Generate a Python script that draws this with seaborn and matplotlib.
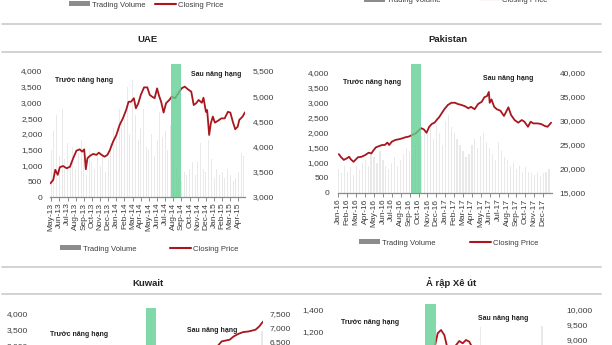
import numpy as np
import pandas as pd
import matplotlib
matplotlib.use("Agg")
import matplotlib.pyplot as plt
import seaborn as sns
from matplotlib.lines import Line2D
from matplotlib.patches import Patch

# ---------------- data ----------------
uae_months = ["May-13", "Jun-13", "Jul-13", "Aug-13", "Sep-13", "Oct-13", "Nov-13", "Dec-13",
              "Jan-14", "Feb-14", "Mar-14", "Apr-14", "May-14", "Jun-14", "Jul-14", "Aug-14",
              "Sep-14", "Oct-14", "Nov-14", "Dec-14", "Jan-15", "Feb-15", "Mar-15", "Apr-15"]
uae_price_x = [-0.1, 0.25, 0.5, 0.8, 1.05, 1.45, 1.9, 2.3, 2.7, 3.1, 3.5, 3.8, 4.05, 4.25, 4.45,
               4.75, 5.15, 5.55, 5.85, 6.15, 6.55, 6.9, 7.2, 7.6, 8.0, 8.4, 8.8, 9.2, 9.5, 9.8,
               10.15, 10.4, 10.7, 11.0, 11.4, 11.8, 12.1, 12.4, 12.7, 13.0, 13.25, 13.5, 13.8,
               14.1, 14.5, 14.8, 15.2, 15.6, 16.0, 16.4, 16.8, 17.2, 17.5, 17.8, 18.1, 18.5,
               18.7, 19.0, 19.15, 19.4, 19.6, 19.85, 20.1, 20.5, 20.9, 21.3, 21.7, 22.0, 22.3,
               22.6, 22.9, 23.1, 23.5, 23.8]
uae_price = [3270, 3340, 3540, 3440, 3590, 3615, 3570, 3600, 3770, 3920, 3945, 3900, 3945, 3550,
             3770, 3815, 3855, 3835, 3880, 3840, 3800, 3835, 3930, 4100, 4230, 4430, 4560, 4725,
             4890, 4890, 4960, 4760, 4860, 5025, 5175, 5175, 5025, 4990, 4960, 5155, 5005, 4890,
             4675, 4860, 4925, 4990, 4960, 5055, 5155, 5190, 5135, 5090, 4825, 4860, 4925, 4870,
             4970, 4690, 4725, 4230, 4460, 4595, 4475, 4515, 4560, 4560, 4690, 4675, 4495, 4345,
             4395, 4530, 4595, 4680]
uae_volume = [1500, 2100, 2600, 1300, 2800, 1200, 1700, 1100, 1600, 900, 1400, 1800,
              1200, 700, 1500, 1100, 900, 1300, 1000, 1300, 800, 1200, 1700, 2200,
              1900, 2800, 2400, 2500, 3500, 2000, 3700, 2600, 1800, 2200, 2800, 1600,
              1500, 2000, 1300, 1800, 2700, 1900, 2100, 1500, 2300, 1200, 900, 600,
              500, 800, 700, 900, 1100, 700, 1100, 1700, 900, 800, 1800, 1200,
              600, 900, 700, 800, 600, 900, 700, 500, 600, 800, 1400, 1300]
uae_band = (14.7, 16.0)

pk_months = ["Jan-16", "Feb-16", "Mar-16", "Apr-16", "May-16", "Jun-16", "Jul-16", "Aug-16",
             "Sep-16", "Oct-16", "Nov-16", "Dec-16", "Jan-17", "Feb-17", "Mar-17", "Apr-17",
             "May-17", "Jun-17", "Jul-17", "Aug-17", "Sep-17", "Oct-17", "Nov-17", "Dec-17"]
pk_price_x = [0.04, 0.3, 0.6, 0.97, 1.2, 1.4, 1.7, 1.9, 2.2, 2.6, 3.0, 3.4, 3.7, 3.9, 4.2, 4.6,
              4.9, 5.2, 5.5, 5.7, 6.0, 6.4, 6.8, 7.2, 7.5, 7.9, 8.3, 8.7, 9.0, 9.3, 9.6, 9.9,
              10.2, 10.5, 10.8, 11.1, 11.3, 11.6, 11.9, 12.3, 12.7, 13.1, 13.4, 13.8, 14.2,
              14.6, 14.9, 15.3, 15.7, 16.1, 16.4, 16.7, 16.9, 17.0, 17.2, 17.5, 17.8, 18.2,
              18.6, 18.8, 19.1, 19.4, 19.8, 20.2, 20.6, 20.9, 21.3, 21.6, 21.9, 22.4, 22.8,
              23.2, 23.5, 23.9]
pk_price = [23100, 22450, 21900, 22250, 22550, 22000, 21500, 21900, 22450, 22550, 22900, 23400,
            23250, 23800, 24500, 24800, 25000, 25000, 25500, 25000, 25700, 26050, 26200, 26400,
            26600, 26750, 27100, 27450, 28000, 28500, 28250, 27550, 28800, 29400, 29650, 30350,
            30750, 31600, 32450, 33350, 33800, 33800, 33550, 33350, 33100, 32650, 32950, 32450,
            33550, 34000, 34950, 35200, 36050, 33800, 34500, 32950, 32450, 32150, 31050, 31750,
            32850, 31250, 30200, 29650, 30200, 29850, 28800, 29850, 29500, 29500, 29350, 28950,
            28800, 29650]
pk_volume = [800, 650, 900, 700, 850, 600, 900, 750, 1000, 1100, 900, 1300,
             1200, 1000, 1400, 1100, 900, 800, 1000, 1200, 900, 1100, 1300, 1500,
             1400, 1200, 1600, 1700, 1900, 2100, 2000, 2200, 1800, 2300, 2000, 1600,
             2400, 2600, 2200, 2000, 1800, 1600, 1400, 1200, 1300, 1600, 1800, 1500,
             1900, 2000, 1700, 1500, 1300, 1100, 1700, 1400, 1200, 1100, 900, 1000,
             800, 900, 700, 850, 700, 650, 600, 700, 550, 650, 700, 800]
pk_band = (8.2, 9.3)

kw_price_x = [19.2, 19.65, 20.5, 20.9, 21.4, 21.9, 22.45, 23.2, 23.6, 24.0]
kw_price = [6350, 6520, 6580, 6690, 6780, 6845, 6865, 6925, 7040, 7210]
kw_volume_x = [23.9]
kw_volume = [3450]
kw_band = (11.7, 12.7)

sa_price_x = [10.7, 10.8, 11.07, 11.42, 11.77, 12.02, 12.4, 13.08, 13.35, 13.71, 14.06, 14.41,
              14.59, 14.9]
sa_price = [8600, 8833, 9224, 9333, 9167, 8833, 8600, 8857, 8967, 8890, 9000, 8944, 8833, 8600]
sa_volume_x = [15.6, 22.1]
sa_volume = [1240, 1250]
sa_band = (9.76, 10.89)

# ---------------- style ----------------
sns.set_theme(style="white")
plt.rcParams["font.family"] = ["Liberation Sans", "DejaVu Sans"]
FONT = ["Liberation Sans", "DejaVu Sans"]

W, H = 612, 345
RED = "#a8161e"
BAR = "#e9e9e9"
GREEN = "#62cf92"
TXT = "#3c3c3c"
SPINE = "#8a8a8a"
SEP = "#cfcfcf"

fig = plt.figure(figsize=(W / 100, H / 100), dpi=100)


def box(x0, y0, x1, y1):
    return [x0 / W, 1 - y1 / H, (x1 - x0) / W, (y1 - y0) / H]


def panel(b, vx, vol, px, price, band, band_top, vlim, vticks, plim, pticks, xlim,
          months=None, bar_w=0.4, lpad=6, rpad=6):
    ax = fig.add_axes(box(*b))
    vdf = pd.DataFrame({"x": vx, "v": vol})
    sns.barplot(data=vdf, x="x", y="v", native_scale=True, color=BAR, saturation=1,
                width=bar_w, linewidth=0, errorbar=None, ax=ax)
    ax2 = ax.twinx()
    pdf = pd.DataFrame({"x": px, "p": price})
    sns.lineplot(data=pdf, x="x", y="p", color=RED, lw=1.3, sort=False, estimator=None, ax=ax2)
    ax2.axvspan(band[0], band[1], ymin=0, ymax=band_top, color=GREEN, alpha=0.8, lw=0,
                clip_on=False, zorder=5)
    ax.set_xlim(*xlim)
    ax.set_ylim(*vlim)
    ax2.set_ylim(*plim)
    ax.set_yticks(vticks)
    ax.set_yticklabels([f"{v:,}" for v in vticks])
    ax2.set_yticks(pticks)
    ax2.set_yticklabels([f"{v:,}" for v in pticks])
    for a in (ax, ax2):
        a.set_xlabel("")
        a.set_ylabel("")
        for s in a.spines.values():
            s.set_visible(False)
        a.grid(False)
    ax.spines["bottom"].set_visible(True)
    ax.spines["bottom"].set_color(SPINE)
    ax.spines["bottom"].set_linewidth(0.9)
    ax.tick_params(axis="y", length=0, labelsize=6, pad=lpad, labelcolor=TXT)
    ax2.tick_params(axis="y", length=0, labelsize=6, pad=rpad, labelcolor=TXT)
    if months is not None:
        ax.set_xticks(range(len(months)))
        ax.set_xticklabels(months, rotation=90)
        ax.tick_params(axis="x", bottom=True, direction="out", length=3, width=0.7,
                       color=SPINE, labelsize=6, pad=1, labelcolor=TXT)
    else:
        ax.set_xticks([])
    return ax, ax2


# UAE
panel((50, 71, 245, 197), np.arange(len(uae_volume)) / 3, uae_volume, uae_price_x, uae_price,
      uae_band, 1.056, (0, 4000), list(range(0, 4001, 500)), (3000, 5500),
      list(range(3000, 5501, 500)), (-0.15, 23.8), uae_months, lpad=5.5, rpad=5.5)
# Pakistan
panel((338, 73, 552, 193), np.arange(len(pk_volume)) / 3, pk_volume, pk_price_x, pk_price,
      pk_band, 1.075, (0, 4000), list(range(0, 4001, 500)), (15000, 40000),
      list(range(15000, 40001, 5000)), (-0.05, 24.0), pk_months, lpad=6.5, rpad=5.5)
# Kuwait (cut off by the picture edge)
panel((35, 313.3, 263, 442.3), kw_volume_x, kw_volume, kw_price_x, kw_price,
      kw_band, 1.043, (0, 4000), list(range(0, 4001, 500)), (3000, 7500),
      list(range(3000, 7501, 500)), (0, 24.0), None, bar_w=0.15, lpad=5, rpad=5)
# Saudi Arabia (cut off by the picture edge)
panel((333, 310, 560, 460), sa_volume_x, sa_volume, sa_price_x, sa_price,
      sa_band, 1.038, (0, 1400), list(range(0, 1401, 200)), (5000, 10000),
      list(range(5000, 10001, 500)), (0, 24.0), None, bar_w=0.025, lpad=6.5, rpad=4.5)

# ---------------- decorations ----------------
def hline(y, x0=2, x1=601):
    fig.add_artist(Line2D([x0 / W, x1 / W], [1 - y / H, 1 - y / H], transform=fig.transFigure,
                          color=SEP, lw=1.3))


for y in (24.3, 51.7, 267, 294):
    hline(y)


def ftext(x, y, s, size=5.0, weight="bold", ha="left"):
    fig.text(x / W, 1 - y / H, s, ha=ha, va="center", fontsize=size, fontweight=weight,
             family=FONT, color="#222222")


ftext(147, 39, "UAE", size=6.8, ha="center")
ftext(448, 39, "Pakistan", size=6.8, ha="center")
ftext(148, 283, "Kuwait", size=6.8, ha="center")
ftext(451, 283, "Ả rập Xê út", size=6.8, ha="center")

ftext(55, 80, "Trước nâng hạng")
ftext(191, 75, "Sau nâng hạng")
ftext(343, 83, "Trước nâng hạng")
ftext(483, 79, "Sau nâng hạng")
ftext(50, 334, "Trước nâng hạng")
ftext(187, 330, "Sau nâng hạng")
ftext(341, 323, "Trước nâng hạng")
ftext(478, 318, "Sau nâng hạng")


def legend(x_left, y_c, gap):
    handles = [Patch(facecolor="#8c8c8c", edgecolor="none"), Line2D([], [], color=RED, lw=1.5)]
    fig.legend(handles, ["Trading Volume", "Closing Price"], loc="center left",
               bbox_to_anchor=(x_left / W, 1 - y_c / H), ncol=2, frameon=False,
               prop={"family": FONT, "size": 5.5}, labelcolor=TXT, handlelength=2.75,
               handleheight=0.6, handletextpad=0.3, columnspacing=gap, borderpad=0,
               borderaxespad=0)


legend(69, 5, 1.2)
legend(364, 0.5, 5.0)
legend(60, 249, 4.3)
legend(359, 243, 4.5)

fig.savefig("out.png", dpi=100)
